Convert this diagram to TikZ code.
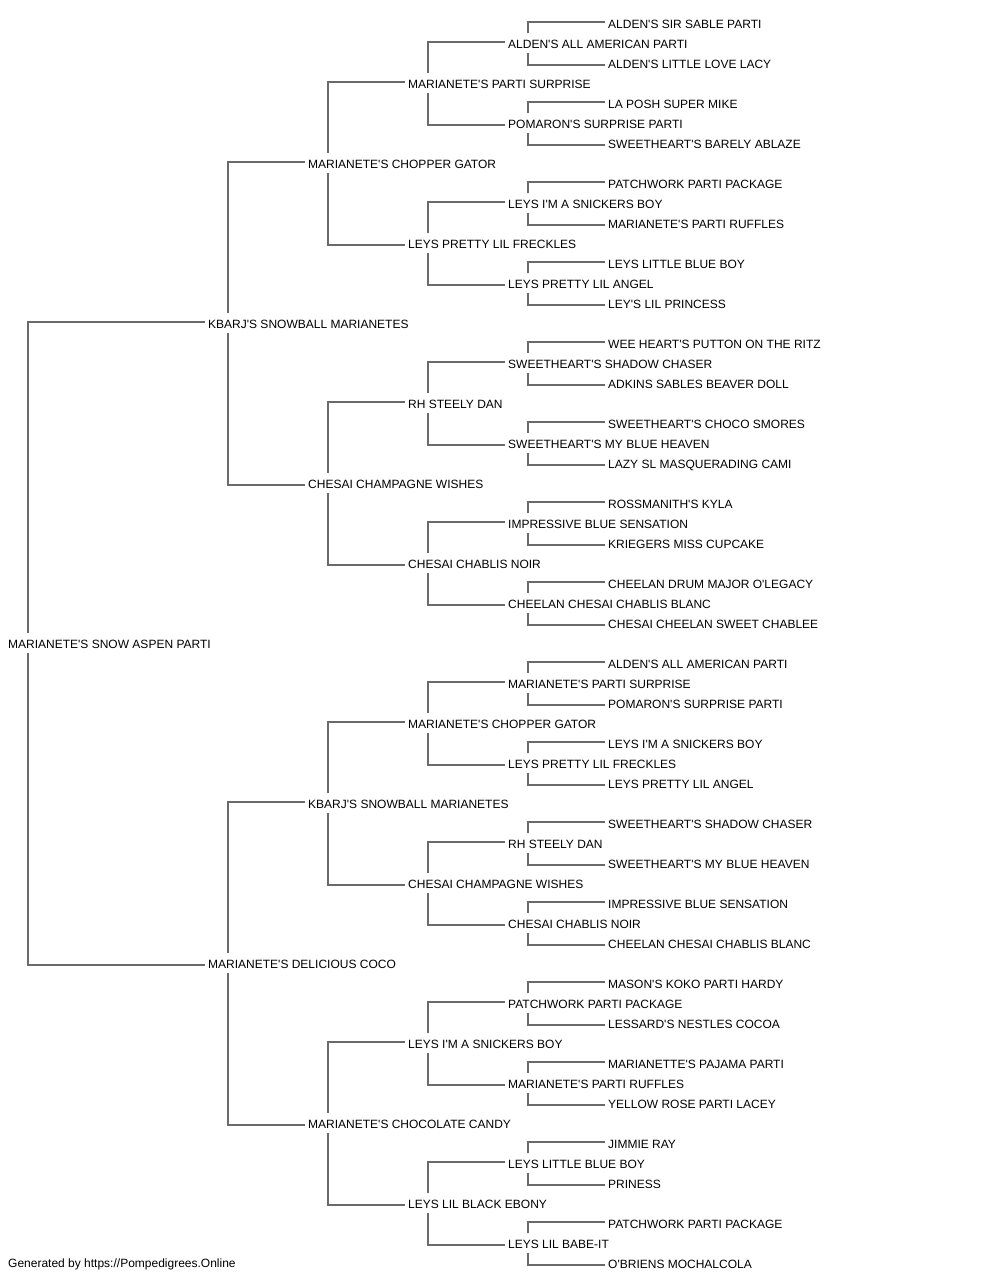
\documentclass[tikz,border=0pt]{standalone}
\usepackage{fontspec}
\newfontfamily\pedfont{Liberation Sans}
\newcommand\ap{\textquotesingle}
\definecolor{wirecol}{HTML}{6A6A6A}
\pgfdeclarelayer{paper}
\pgfdeclarelayer{wires}
\pgfsetlayers{paper,wires,main}
\begin{document}
\begin{tikzpicture}[x=1pt,y=1pt,
  nm/.style={anchor=west, fill=white, inner xsep=3pt, inner ysep=0pt, minimum height=20pt,
    text height=10.4pt, text depth=0pt, font=\pedfont\fontsize{12pt}{14pt}\selectfont},
  foot/.style={anchor=west, inner sep=0pt, text height=9.6pt, text depth=0pt,
    font=\pedfont\fontsize{12pt}{14pt}\selectfont},
  wire/.style={draw=wirecol, line width=1.4pt}]
\useasboundingbox (0,0) rectangle (1000,-1280);
\begin{pgfonlayer}{paper}
\fill[white] (0,0) rectangle (1000,-1280);
\end{pgfonlayer}
% depth 0
\node[nm] (n1) at (5,-643) {MARIANETE\ap S SNOW ASPEN PARTI};
% depth 1
\node[nm] (n2) at (205,-323) {KBARJ\ap S SNOWBALL MARIANETES};
\node[nm] (n3) at (205,-963) {MARIANETE\ap S DELICIOUS COCO};
% depth 2
\node[nm] (n4) at (305,-163) {MARIANETE\ap S CHOPPER GATOR};
\node[nm] (n5) at (305,-483) {CHESAI CHAMPAGNE WISHES};
\node[nm] (n6) at (305,-803) {KBARJ\ap S SNOWBALL MARIANETES};
\node[nm] (n7) at (305,-1123) {MARIANETE\ap S CHOCOLATE CANDY};
% depth 3
\node[nm] (n8) at (405,-83) {MARIANETE\ap S PARTI SURPRISE};
\node[nm] (n9) at (405,-243) {LEYS PRETTY LIL FRECKLES};
\node[nm] (n10) at (405,-403) {RH STEELY DAN};
\node[nm] (n11) at (405,-563) {CHESAI CHABLIS NOIR};
\node[nm] (n12) at (405,-723) {MARIANETE\ap S CHOPPER GATOR};
\node[nm] (n13) at (405,-883) {CHESAI CHAMPAGNE WISHES};
\node[nm] (n14) at (405,-1043) {LEYS I\ap M A SNICKERS BOY};
\node[nm] (n15) at (405,-1203) {LEYS LIL BLACK EBONY};
% depth 4
\node[nm] (n16) at (505,-43) {ALDEN\ap S ALL AMERICAN PARTI};
\node[nm] (n17) at (505,-123) {POMARON\ap S SURPRISE PARTI};
\node[nm] (n18) at (505,-203) {LEYS I\ap M A SNICKERS BOY};
\node[nm] (n19) at (505,-283) {LEYS PRETTY LIL ANGEL};
\node[nm] (n20) at (505,-363) {SWEETHEART\ap S SHADOW CHASER};
\node[nm] (n21) at (505,-443) {SWEETHEART\ap S MY BLUE HEAVEN};
\node[nm] (n22) at (505,-523) {IMPRESSIVE BLUE SENSATION};
\node[nm] (n23) at (505,-603) {CHEELAN CHESAI CHABLIS BLANC};
\node[nm] (n24) at (505,-683) {MARIANETE\ap S PARTI SURPRISE};
\node[nm] (n25) at (505,-763) {LEYS PRETTY LIL FRECKLES};
\node[nm] (n26) at (505,-843) {RH STEELY DAN};
\node[nm] (n27) at (505,-923) {CHESAI CHABLIS NOIR};
\node[nm] (n28) at (505,-1003) {PATCHWORK PARTI PACKAGE};
\node[nm] (n29) at (505,-1083) {MARIANETE\ap S PARTI RUFFLES};
\node[nm] (n30) at (505,-1163) {LEYS LITTLE BLUE BOY};
\node[nm] (n31) at (505,-1243) {LEYS LIL BABE-IT};
% depth 5
\node[nm] (n32) at (605,-23) {ALDEN\ap S SIR SABLE PARTI};
\node[nm] (n33) at (605,-63) {ALDEN\ap S LITTLE LOVE LACY};
\node[nm] (n34) at (605,-103) {LA POSH SUPER MIKE};
\node[nm] (n35) at (605,-143) {SWEETHEART\ap S BARELY ABLAZE};
\node[nm] (n36) at (605,-183) {PATCHWORK PARTI PACKAGE};
\node[nm] (n37) at (605,-223) {MARIANETE\ap S PARTI RUFFLES};
\node[nm] (n38) at (605,-263) {LEYS LITTLE BLUE BOY};
\node[nm] (n39) at (605,-303) {LEY\ap S LIL PRINCESS};
\node[nm] (n40) at (605,-343) {WEE HEART\ap S PUTTON ON THE RITZ};
\node[nm] (n41) at (605,-383) {ADKINS SABLES BEAVER DOLL};
\node[nm] (n42) at (605,-423) {SWEETHEART\ap S CHOCO SMORES};
\node[nm] (n43) at (605,-463) {LAZY SL MASQUERADING CAMI};
\node[nm] (n44) at (605,-503) {ROSSMANITH\ap S KYLA};
\node[nm] (n45) at (605,-543) {KRIEGERS MISS CUPCAKE};
\node[nm] (n46) at (605,-583) {CHEELAN DRUM MAJOR O\ap LEGACY};
\node[nm] (n47) at (605,-623) {CHESAI CHEELAN SWEET CHABLEE};
\node[nm] (n48) at (605,-663) {ALDEN\ap S ALL AMERICAN PARTI};
\node[nm] (n49) at (605,-703) {POMARON\ap S SURPRISE PARTI};
\node[nm] (n50) at (605,-743) {LEYS I\ap M A SNICKERS BOY};
\node[nm] (n51) at (605,-783) {LEYS PRETTY LIL ANGEL};
\node[nm] (n52) at (605,-823) {SWEETHEART\ap S SHADOW CHASER};
\node[nm] (n53) at (605,-863) {SWEETHEART\ap S MY BLUE HEAVEN};
\node[nm] (n54) at (605,-903) {IMPRESSIVE BLUE SENSATION};
\node[nm] (n55) at (605,-943) {CHEELAN CHESAI CHABLIS BLANC};
\node[nm] (n56) at (605,-983) {MASON\ap S KOKO PARTI HARDY};
\node[nm] (n57) at (605,-1023) {LESSARD\ap S NESTLES COCOA};
\node[nm] (n58) at (605,-1063) {MARIANETTE\ap S PAJAMA PARTI};
\node[nm] (n59) at (605,-1103) {YELLOW ROSE PARTI LACEY};
\node[nm] (n60) at (605,-1143) {JIMMIE RAY};
\node[nm] (n61) at (605,-1183) {PRINESS};
\node[nm] (n62) at (605,-1223) {PATCHWORK PARTI PACKAGE};
\node[nm] (n63) at (605,-1263) {O\ap BRIENS MOCHALCOLA};
% footer
\node[foot] (ft) at (8,-1263) {Generated by https://Pompedigrees.Online};
% connectors
\begin{pgfonlayer}{wires}
\foreach \i in {1,...,31} {
  \pgfmathtruncatemacro\ca{2*\i}
  \pgfmathtruncatemacro\cb{2*\i+1}
  \draw[wire] ([yshift=1pt]n\ca.west) -| ([xshift=23pt]n\i.west) |- ([yshift=-2pt]n\cb.west);
}
\end{pgfonlayer}
\end{tikzpicture}
\end{document}
